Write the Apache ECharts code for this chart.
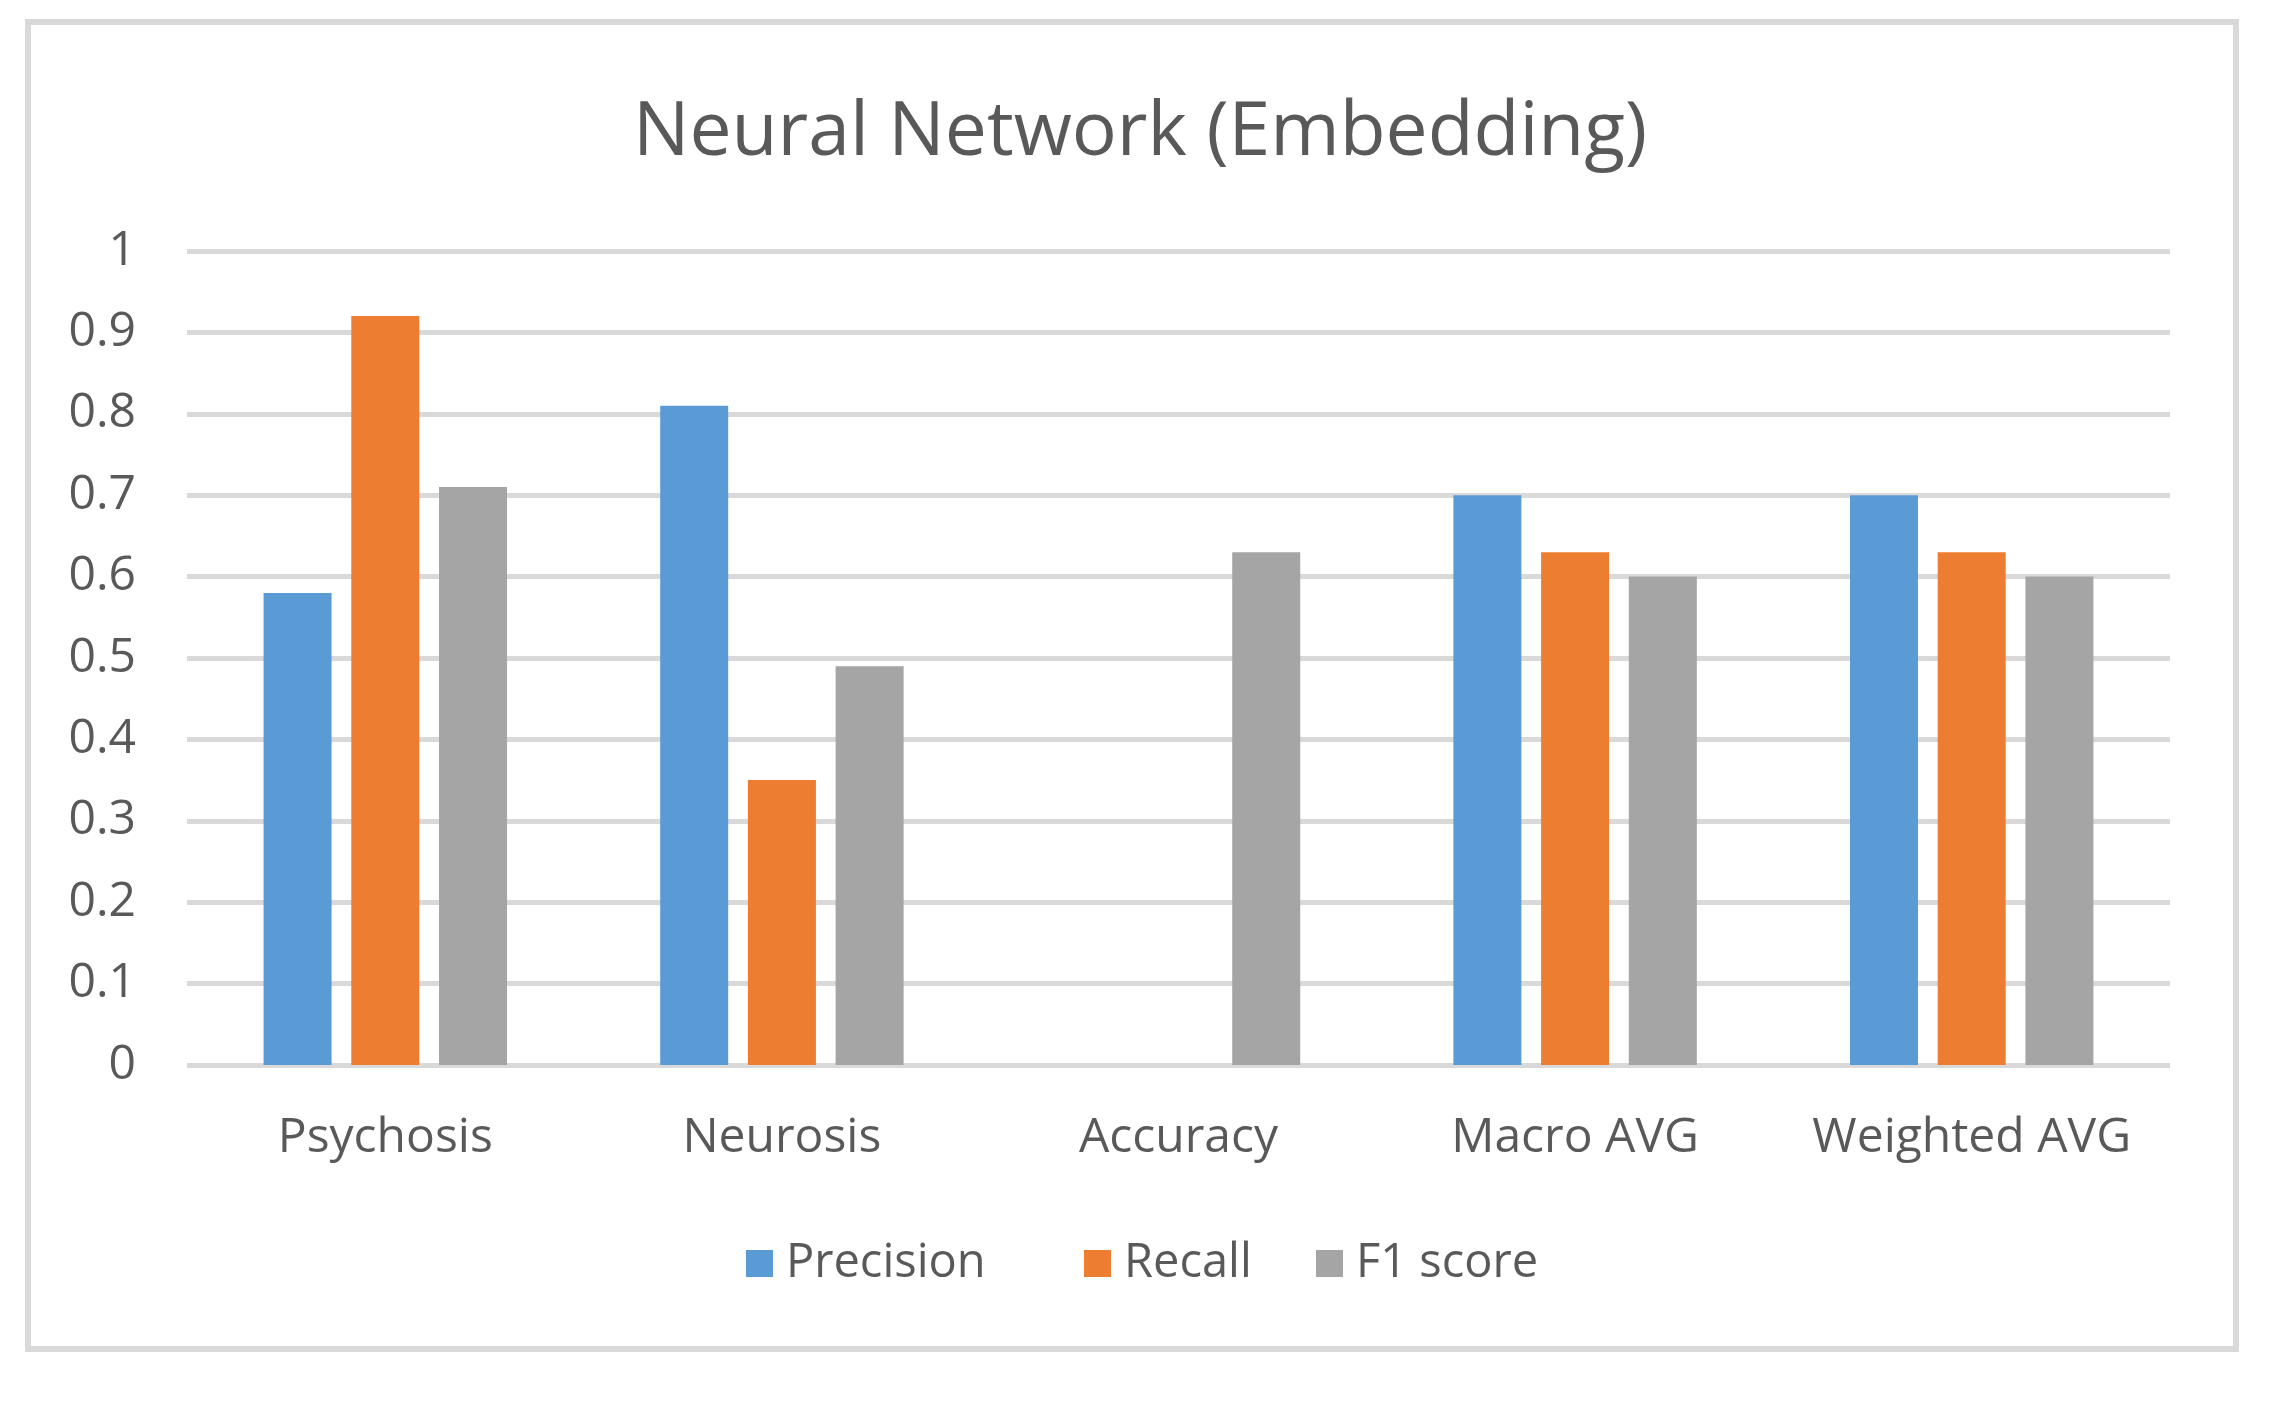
<!DOCTYPE html>
<html>
<head>
<meta charset="utf-8">
<title>Neural Network (Embedding)</title>
<script src="https://cdn.jsdelivr.net/npm/echarts@6/dist/echarts.min.js"></script>
<style>
  html, body { margin: 0; padding: 0; background: #fff; }
  #chart { width: 2288px; height: 1408px; }
</style>
</head>
<body>
<div id="chart"></div>
<script>
// data
const categories = ['Psychosis', 'Neurosis', 'Accuracy', 'Macro AVG', 'Weighted AVG']
const precision = [0.58, 0.81, null, 0.70, 0.70]
const recall = [0.92, 0.35, null, 0.63, 0.63]
const f1score = [0.71, 0.49, 0.63, 0.60, 0.60]
const yTickLabels = ['0', '0.1', '0.2', '0.3', '0.4', '0.5', '0.6', '0.7', '0.8', '0.9', '1']

const color = ['#5B9BD5', '#ED7D31', '#A5A5A5']
const textColor = '#595959'
const font = 'Open Sans'

const chart = echarts.init(document.getElementById('chart'))

// one legend per entry so each can sit where the original has it
function legendAt(name, left) {
  return {
    data: [name],
    left: left,
    top: 1235,
    icon: 'rect',
    itemWidth: 27,
    itemHeight: 27,
    textStyle: {
      fontFamily: font,
      fontSize: 47,
      color: textColor,
      padding: [0, 0, 0, 8]
    }
  }
}

const option = {
  color: color,
  animation: false,
  title: {
    text: 'Neural Network (Embedding)',
    left: 628,
    top: 91,
    textStyle: {
      fontFamily: font,
      fontSize: 75,
      fontWeight: 'normal',
      color: textColor
    }
  },
  graphic: [{
    type: 'rect',
    shape: { x: 28, y: 22, width: 2208, height: 1327 },
    style: { fill: 'none', stroke: '#d9d9d9', lineWidth: 6 },
    silent: true
  }],
  legend: [
    legendAt('Precision', 741),
    legendAt('Recall', 1079),
    legendAt('F1 score', 1311)
  ],
  grid: {
    left: 187,
    right: 118,
    top: 251,
    bottom: 343,
    containLabel: false
  },
  xAxis: {
    type: 'category',
    data: categories,
    axisLine: { show: false },
    axisTick: { show: false },
    axisLabel: {
      interval: 0,
      margin: 49,
      fontFamily: font,
      fontSize: 48,
      color: textColor
    }
  },
  yAxis: {
    type: 'value',
    min: 0,
    max: 1,
    interval: 0.1,
    axisLine: { show: false },
    axisTick: { show: false },
    axisLabel: {
      margin: 51,
      fontFamily: font,
      fontSize: 48,
      color: textColor,
      formatter: (v, i) => yTickLabels[i]
    },
    splitLine: {
      show: true,
      lineStyle: { color: '#d9d9d9', width: 5 }
    }
  },
  series: [
    { name: 'Precision', type: 'bar', data: precision, barWidth: 68, barGap: '29%' },
    { name: 'Recall', type: 'bar', data: recall, barWidth: 68, barGap: '29%' },
    { name: 'F1 score', type: 'bar', data: f1score, barWidth: 68, barGap: '29%' }
  ]
}

chart.setOption(option)
window.onresize = () => {
  chart.resize()
}
</script>
</body>
</html>
